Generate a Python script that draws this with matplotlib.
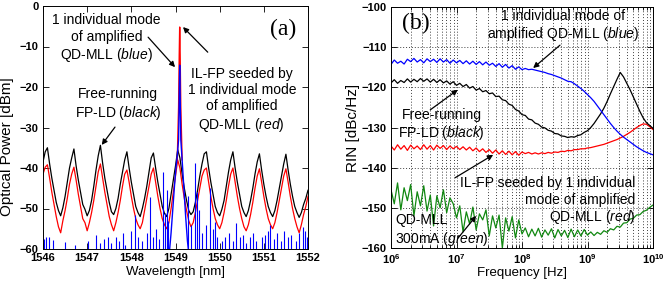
import numpy as np
import matplotlib
matplotlib.use('Agg')
import matplotlib.pyplot as plt
from matplotlib.ticker import FuncFormatter, LogLocator, MultipleLocator

plt.rcParams['font.family'] = ['Liberation Sans', 'DejaVu Sans']
plt.rcParams['mathtext.fontset'] = 'custom'
plt.rcParams['mathtext.rm'] = 'Liberation Sans'
plt.rcParams['mathtext.it'] = 'Liberation Sans:italic'
plt.rcParams['mathtext.bf'] = 'Liberation Sans:bold'

# ---------------- (a) optical spectra, 0.05 nm readings ----------------
wl = np.linspace(1546, 1552, 121)
black_db = [-38.5, -36.0, -35.0, -39.0, -42.5, -45.5, -48.5, -50.5, -51.8, -49.8,
            -47.0, -43.5, -40.0, -37.5, -35.3, -39.5, -43.0, -46.0, -49.0, -50.2,
            -51.8, -50.5, -48.0, -44.5, -40.5, -37.0, -34.4, -38.8, -42.5, -45.5,
            -48.5, -50.8, -51.5, -50.0, -47.5, -44.0, -41.0, -38.0, -36.0, -40.0,
            -43.5, -46.5, -49.5, -51.0, -52.0, -50.0, -47.5, -44.5, -41.0, -37.5,
            -36.3, -40.0, -43.5, -46.5, -49.5, -51.2, -52.0, -50.0, -46.5, -43.0,
            -39.5, -35.5, -37.5, -41.5, -45.0, -48.0, -50.5, -51.5, -50.8, -48.5,
            -45.5, -42.0, -39.0, -36.5, -36.0, -40.0, -43.5, -46.5, -49.5, -51.0,
            -51.8, -50.2, -48.0, -44.5, -41.0, -38.0, -36.0, -40.0, -43.5, -46.5,
            -49.5, -51.0, -52.0, -50.5, -48.0, -45.0, -41.5, -38.5, -36.5, -40.5,
            -44.0, -47.0, -49.5, -51.0, -52.0, -50.5, -48.0, -45.0, -42.0, -39.0,
            -36.6, -40.5, -44.0, -47.0, -49.5, -51.0, -52.2, -51.0, -49.0, -47.5,
            -45.5]
red_db = [-41.5, -39.8, -39.2, -42.5, -46.0, -49.0, -52.0, -54.5, -56.0, -53.0,
          -50.5, -47.5, -44.0, -41.5, -39.8, -43.0, -46.5, -49.5, -52.5, -53.5,
          -55.5, -53.5, -51.0, -48.0, -44.5, -41.0, -39.0, -42.5, -46.0, -49.0,
          -52.0, -54.0, -55.5, -53.5, -51.0, -48.0, -44.5, -41.5, -40.5, -43.5,
          -47.0, -50.0, -52.5, -54.0, -55.0, -53.5, -50.5, -47.5, -44.5, -41.5,
          -40.0, -43.5, -47.0, -50.0, -52.5, -54.0, -55.0, -53.5, -50.0, -46.0,
          -42.0, -38.0, -40.0, -44.0, -47.5, -50.5, -53.0, -54.5, -53.5, -51.0,
          -48.0, -45.0, -42.0, -40.5, -40.0, -43.5, -47.0, -50.0, -52.5, -54.0,
          -55.0, -53.5, -51.0, -48.0, -44.5, -41.5, -40.0, -43.5, -47.0, -50.0,
          -52.5, -54.5, -55.5, -54.0, -51.5, -48.5, -45.0, -42.0, -40.2, -43.5,
          -47.0, -50.0, -52.5, -54.0, -55.0, -53.5, -51.0, -48.0, -45.0, -42.0,
          -40.2, -43.5, -47.0, -50.0, -52.5, -54.5, -56.0, -54.0, -51.5, -49.5,
          -47.0]
red_peak_wl = [1549.04, 1549.07, 1549.085, 1549.095, 1549.105, 1549.12, 1549.15]
red_peak_db = [-38.0, -25.0, -12.0, -5.2, -12.0, -25.0, -38.0]

blue_peak_wl = [1548.86, 1548.90, 1548.94, 1548.98, 1549.01, 1549.04, 1549.07,
                1549.085, 1549.095, 1549.105, 1549.12, 1549.15, 1549.19, 1549.23,
                1549.27, 1549.30]
blue_peak_db = [-61, -56, -50, -44, -40, -37, -33, -22, -14.6, -22, -33, -38,
                -45, -52, -58, -61]
blue_spike_wl = [1546.03, 1546.06, 1546.14, 1546.23, 1546.49, 1546.72, 1547.02,
                 1547.21, 1547.30, 1547.38, 1547.47, 1547.55, 1547.65, 1547.72,
                 1547.80, 1547.85, 1548.00, 1548.08, 1548.15, 1548.25, 1548.35,
                 1548.42, 1548.50, 1548.55, 1548.62, 1548.71, 1548.76, 1548.80,
                 1548.84, 1549.29, 1549.35, 1549.44, 1549.48, 1549.54, 1549.60,
                 1549.68, 1549.78, 1549.84, 1549.89, 1549.95, 1550.05, 1550.12,
                 1550.20, 1550.30, 1550.38, 1550.45, 1550.52, 1550.60, 1550.68,
                 1550.75, 1550.82, 1550.95, 1551.02, 1551.10, 1551.14, 1551.22,
                 1551.30, 1551.38, 1551.45, 1551.55, 1551.62, 1551.72, 1551.80,
                 1551.88, 1551.93, 1551.97]
blue_spike_db = [-57.5, -57.0, -57.0, -57.8, -58.2, -59.0, -58.0, -56.6, -58.5,
                 -57.5, -57.0, -58.5, -57.0, -58.0, -56.0, -59.0, -55.5, -51.6,
                 -57.0, -58.0, -56.0, -47.1, -57.0, -55.0, -57.5, -40.9, -51.0,
                 -45.4, -53.0, -47.0, -54.0, -38.8, -46.0, -50.4, -56.0, -54.0,
                 -45.0, -55.0, -53.3, -57.0, -58.0, -57.0, -56.0, -58.0, -53.6,
                 -57.0, -56.5, -58.5, -57.0, -56.0, -58.0, -57.0, -56.5, -55.5,
                 -54.0, -57.5, -56.0, -58.0, -55.5, -57.0, -56.5, -58.0, -56.0,
                 -54.5, -55.5, -57.0]

# ---------------- (b) RIN spectra, readings every 0.05 decade ----------------
freq = np.logspace(6, 10, 81)
rin_blue = [-114.3, -113.2, -114.0, -113.5, -114.2, -113.0, -113.6, -112.8, -113.7, -113.1,
            -113.9, -112.9, -113.6, -113.0, -113.8, -112.9, -113.7, -113.1, -114.0, -113.2,
            -113.9, -113.3, -114.1, -113.4, -114.2, -113.5, -114.3, -113.6, -114.4, -113.7,
            -114.5, -114.0, -114.8, -114.1, -115.0, -114.3, -115.2, -114.6, -115.5, -114.9,
            -115.6, -115.3, -115.6, -115.5, -115.7, -115.9, -116.1, -116.3, -116.6, -116.8,
            -117.1, -117.4, -117.7, -118.1, -118.5, -118.6, -119.1, -119.7, -120.3, -121.0,
            -121.8, -122.6, -123.5, -124.6, -125.7, -126.8, -127.9, -129.0, -130.0, -130.9,
            -131.7, -132.4, -133.0, -133.6, -134.2, -134.8, -135.3, -135.8, -136.2, -136.5,
            -136.8]
rin_black = [-118.9, -118.1, -119.0, -118.3, -118.8, -117.9, -118.7, -118.0, -118.6, -117.8,
             -118.5, -117.9, -118.7, -118.0, -118.8, -118.1, -118.9, -118.4, -119.2, -118.6,
             -119.5, -119.0, -119.8, -119.3, -120.2, -119.8, -120.7, -120.3, -121.1, -120.8,
             -121.6, -121.4, -122.3, -122.2, -123.1, -123.3, -124.2, -124.5, -125.5, -125.9,
             -126.8, -127.0, -127.9, -128.1, -128.9, -129.2, -129.9, -130.1, -130.7, -130.9,
             -131.5, -131.6, -132.1, -132.2, -132.5, -132.3, -132.4, -132.0, -131.8, -131.2,
             -130.8, -130.0, -129.0, -127.8, -126.6, -125.2, -123.5, -121.6, -119.8, -118.0,
             -116.3, -117.4, -119.0, -120.6, -122.4, -124.2, -126.0, -127.6, -128.8, -129.5,
             -130.2]
rin_red = [-134.6, -135.6, -134.3, -135.4, -134.5, -135.7, -134.4, -135.3, -134.6, -135.5,
           -134.3, -135.4, -134.5, -135.6, -134.4, -135.2, -134.5, -135.5, -134.6, -135.3,
           -134.7, -135.5, -134.8, -135.6, -134.9, -135.8, -135.1, -136.0, -135.3, -136.2,
           -135.5, -136.4, -135.6, -136.6, -135.8, -136.7, -135.9, -136.8, -136.0, -136.9,
           -136.1, -136.5, -136.2, -136.6, -136.3, -136.6, -136.3, -136.5, -136.2, -136.4,
           -136.1, -136.2, -135.9, -136.0, -135.7, -135.8, -135.5, -135.5, -135.3, -135.3,
           -135.1, -135.0, -134.8, -134.6, -134.4, -134.2, -133.9, -133.6, -133.3, -133.0,
           -132.6, -132.2, -131.7, -131.2, -130.6, -130.0, -129.5, -129.1, -129.2, -129.8,
           -130.5]
rin_green = [-145.5, -149.0, -143.8, -150.5, -145.0, -148.2, -144.2, -152.0, -146.0, -149.5,
             -144.5, -150.8, -146.8, -154.5, -147.0, -150.0, -145.5, -151.2, -147.5, -149.0,
             -152.5, -149.5, -156.0, -151.0, -154.0, -149.8, -155.5, -151.5, -153.0, -150.5,
             -157.0, -152.0, -155.0, -151.8, -160.0, -152.5, -155.8, -152.2, -157.5, -153.0,
             -156.5, -155.0, -157.2, -155.3, -157.0, -155.1, -157.3, -155.5, -156.8, -155.2,
             -157.5, -155.4, -157.0, -155.6, -157.4, -155.3, -157.2, -155.5, -157.0, -155.4,
             -156.8, -156.0, -156.9, -156.1, -156.6, -155.7, -156.1, -155.2, -155.5, -154.6,
             -154.8, -153.8, -153.7, -152.8, -152.6, -151.8, -151.7, -150.9, -150.6, -149.9,
             -149.3]

green = '#118811'
fig = plt.figure(figsize=(6.63, 2.85), dpi=100)
ax1 = fig.add_axes([43 / 663, 1 - 249 / 285, 265 / 663, 243 / 285])
ax2 = fig.add_axes([391 / 663, 1 - 248 / 285, 262 / 663, 241 / 285])

# panel (a)
ax1.plot(wl, black_db, color='k', lw=0.9)
ax1.plot(wl, red_db, color='r', lw=0.9)
ax1.plot(red_peak_wl, red_peak_db, color='r', lw=1.0)
ax1.vlines(blue_spike_wl, -61, blue_spike_db, colors='b', lw=0.8)
ax1.plot(blue_peak_wl, blue_peak_db, color='b', lw=1.0)
ax1.set_xlim(1546, 1552)
ax1.set_ylim(-60, 0)
ax1.yaxis.set_major_locator(MultipleLocator(10))
ax1.set_xlabel('Wavelength [nm]', fontsize=9.5, labelpad=2)
ax1.set_ylabel('Optical Power [dBm]', fontsize=11)
ax1.yaxis.set_label_coords(-0.11, 0.42)

arw = dict(arrowstyle='-|>', color='k', lw=0.9, mutation_scale=8, shrinkA=0, shrinkB=0)
ax1.text(1551.43, -5.7, '(a)', family='Liberation Serif', fontsize=17,
         ha='center', va='center')
ax1.text(1547.44, -8.1, '1 individual mode\nof amplified\nQD-MLL ($\\it{blue}$)',
         ha='center', va='center', fontsize=10, linespacing=1.2)
ax1.annotate('', xy=(1548.99, -15.1), xytext=(1548.38, -7.7), arrowprops=arw)
ax1.text(1550.5, -23.3, 'IL-FP seeded by\n1 individual mode\nof amplified\nQD-MLL ($\\it{red}$)',
         ha='center', va='center', fontsize=10, linespacing=1.2)
ax1.annotate('', xy=(1549.17, -5.2), xytext=(1549.73, -11.4), arrowprops=arw)
ax1.text(1547.70, -24.3, 'Free-running\nFP-LD ($\\it{black}$)',
         ha='center', va='center', fontsize=10, linespacing=1.2)
ax1.annotate('', xy=(1547.33, -34.3), xytext=(1547.63, -29.9), arrowprops=arw)

# panel (b)
ax2.plot(freq, rin_green, color=green, lw=0.9)
ax2.plot(freq, rin_red, color='r', lw=0.9)
ax2.plot(freq, rin_black, color='k', lw=0.9)
ax2.plot(freq, rin_blue, color='b', lw=0.9)
ax2.set_xscale('log')
ax2.set_xlim(1e6, 1e10)
ax2.set_ylim(-160, -100)
ax2.yaxis.set_major_locator(MultipleLocator(10))
ax2.xaxis.set_major_locator(LogLocator(base=10, numticks=10))
ax2.xaxis.set_minor_locator(LogLocator(base=10, subs=np.arange(2, 10), numticks=20))
ax2.xaxis.set_major_formatter(FuncFormatter(lambda v, p: r'$\mathbf{10^{%d}}$' % round(np.log10(v))))
ax2.grid(True, which='both', axis='x', ls=(0, (1, 2)), color='0.25', lw=0.7)
ax2.grid(True, which='major', axis='y', ls=(0, (1, 2)), color='0.25', lw=0.7)
ax2.set_xlabel('Frequency [Hz]', fontsize=9.5, labelpad=1)
ax2.set_ylabel('RIN [dBc/Hz]', fontsize=11, labelpad=1)

ax2.text(10 ** 6.38, -104.0, '(b)', family='Liberation Serif', fontsize=17,
         ha='center', va='center')
ax2.text(10 ** 8.63, -104.7, '1 individual mode of\namplified QD-MLL ($\\it{blue}$)',
         ha='center', va='center', fontsize=10, linespacing=1.2)
ax2.annotate('', xy=(10 ** 8.17, -115.2), xytext=(10 ** 8.58, -109.5), arrowprops=arw)
ax2.text(10 ** 6.77, -129.4, 'Free-running\nFP-LD ($\\it{black}$)',
         ha='center', va='center', fontsize=10, linespacing=1.2)
ax2.annotate('', xy=(10 ** 7.02, -120.6), xytext=(10 ** 6.60, -125.6), arrowprops=arw)
red_lines = ['IL-FP seeded by 1 individual', 'mode of amplified', 'QD-MLL ($\\it{red}$)']
for line, y in zip(red_lines, [-143.8, -148.0, -152.4]):
    ax2.text(10 ** 9.73, y, line, ha='right', va='center', fontsize=10)
ax2.annotate('', xy=(10 ** 7.56, -136.8), xytext=(10 ** 6.98, -142.5), arrowprops=arw)
ax2.text(10 ** 6.06, -155.7, 'QD-MLL\n300mA ($\\it{green}$)',
         ha='left', va='center', fontsize=10, linespacing=1.2)
ax2.annotate('', xy=(10 ** 7.30, -152.0), xytext=(10 ** 7.02, -157.6), arrowprops=arw)

for ax in (ax1, ax2):
    ax.tick_params(which='both', direction='in', top=True, right=True,
                   labelsize=8, width=0.6, pad=3)
    ax.tick_params(which='major', length=4)
    ax.tick_params(which='minor', length=2)
    for lbl in ax.get_xticklabels() + ax.get_yticklabels():
        lbl.set_fontweight('bold')
    for s in ax.spines.values():
        s.set_linewidth(0.7)

fig.savefig('out.png', dpi=100)
